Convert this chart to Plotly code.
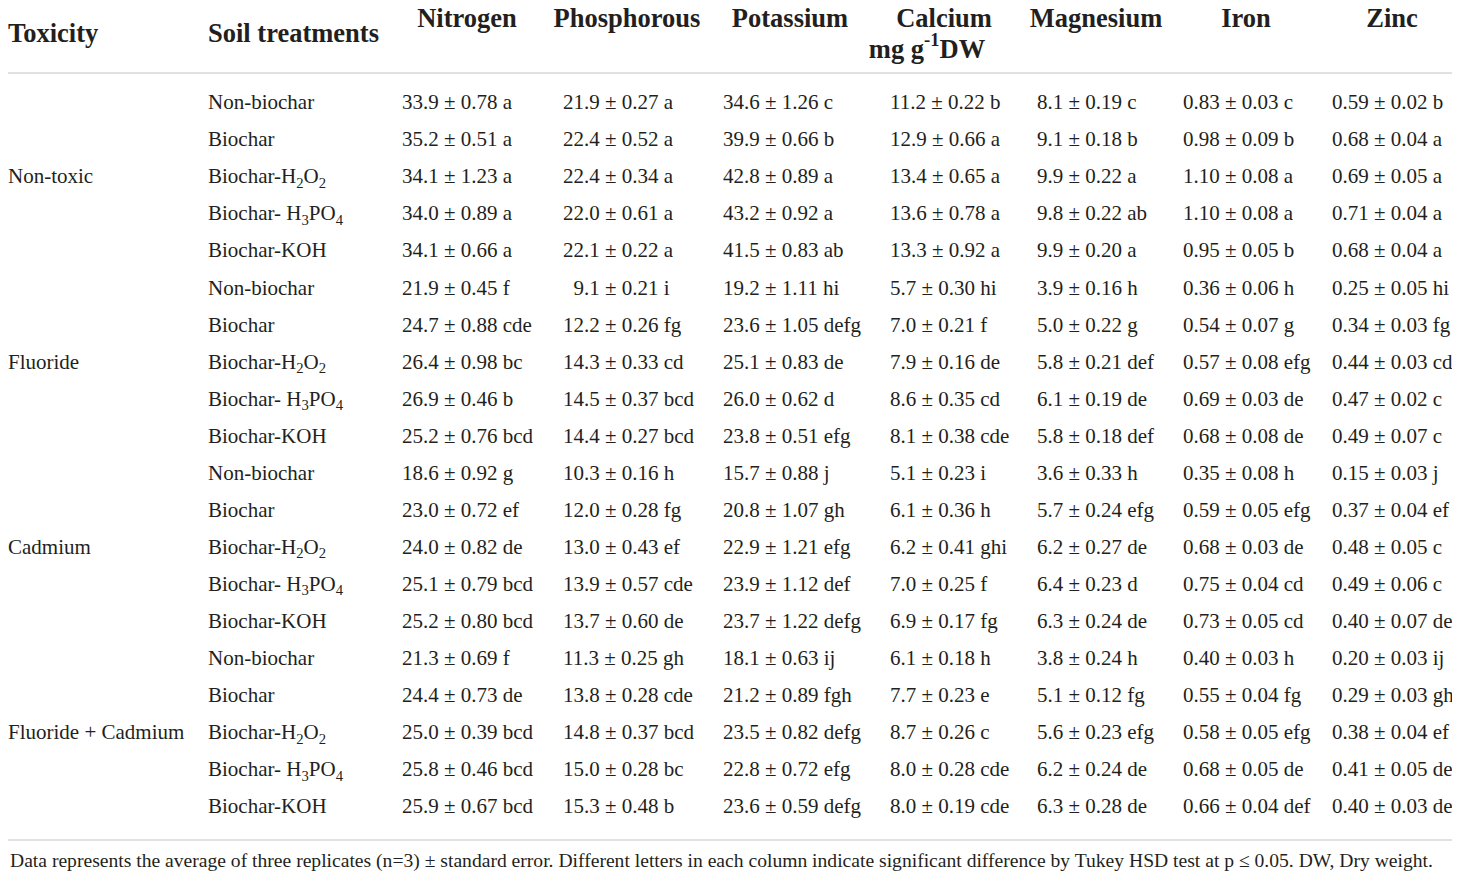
import plotly.graph_objects as go

# table content
toxicity = ["Non-toxic", "Fluoride", "Cadmium", "Fluoride + Cadmium"]
treatments = ["Non-biochar", "Biochar", "Biochar-H<sub>2</sub>O<sub>2</sub>",
              "Biochar- H<sub>3</sub>PO<sub>4</sub>", "Biochar-KOH"]

columns = ["Nitrogen", "Phosphorous", "Potassium", "Calcium", "Magnesium", "Iron", "Zinc"]
unit_label = "mg g<sup>-1</sup>DW"

nitrogen = ["33.9 ± 0.78 a", "35.2 ± 0.51 a", "34.1 ± 1.23 a", "34.0 ± 0.89 a", "34.1 ± 0.66 a",
            "21.9 ± 0.45 f", "24.7 ± 0.88 cde", "26.4 ± 0.98 bc", "26.9 ± 0.46 b", "25.2 ± 0.76 bcd",
            "18.6 ± 0.92 g", "23.0 ± 0.72 ef", "24.0 ± 0.82 de", "25.1 ± 0.79 bcd", "25.2 ± 0.80 bcd",
            "21.3 ± 0.69 f", "24.4 ± 0.73 de", "25.0 ± 0.39 bcd", "25.8 ± 0.46 bcd", "25.9 ± 0.67 bcd"]
phosphorous = ["21.9 ± 0.27 a", "22.4 ± 0.52 a", "22.4 ± 0.34 a", "22.0 ± 0.61 a", "22.1 ± 0.22 a",
               "\u20079.1 ± 0.21 i", "12.2 ± 0.26 fg", "14.3 ± 0.33 cd", "14.5 ± 0.37 bcd", "14.4 ± 0.27 bcd",
               "10.3 ± 0.16 h", "12.0 ± 0.28 fg", "13.0 ± 0.43 ef", "13.9 ± 0.57 cde", "13.7 ± 0.60 de",
               "11.3 ± 0.25 gh", "13.8 ± 0.28 cde", "14.8 ± 0.37 bcd", "15.0 ± 0.28 bc", "15.3 ± 0.48 b"]
potassium = ["34.6 ± 1.26 c", "39.9 ± 0.66 b", "42.8 ± 0.89 a", "43.2 ± 0.92 a", "41.5 ± 0.83 ab",
             "19.2 ± 1.11 hi", "23.6 ± 1.05 defg", "25.1 ± 0.83 de", "26.0 ± 0.62 d", "23.8 ± 0.51 efg",
             "15.7 ± 0.88 j", "20.8 ± 1.07 gh", "22.9 ± 1.21 efg", "23.9 ± 1.12 def", "23.7 ± 1.22 defg",
             "18.1 ± 0.63 ij", "21.2 ± 0.89 fgh", "23.5 ± 0.82 defg", "22.8 ± 0.72 efg", "23.6 ± 0.59 defg"]
calcium = ["11.2 ± 0.22 b", "12.9 ± 0.66 a", "13.4 ± 0.65 a", "13.6 ± 0.78 a", "13.3 ± 0.92 a",
           "5.7 ± 0.30 hi", "7.0 ± 0.21 f", "7.9 ± 0.16 de", "8.6 ± 0.35 cd", "8.1 ± 0.38 cde",
           "5.1 ± 0.23 i", "6.1 ± 0.36 h", "6.2 ± 0.41 ghi", "7.0 ± 0.25 f", "6.9 ± 0.17 fg",
           "6.1 ± 0.18 h", "7.7 ± 0.23 e", "8.7 ± 0.26 c", "8.0 ± 0.28 cde", "8.0 ± 0.19 cde"]
magnesium = ["8.1 ± 0.19 c", "9.1 ± 0.18 b", "9.9 ± 0.22 a", "9.8 ± 0.22 ab", "9.9 ± 0.20 a",
             "3.9 ± 0.16 h", "5.0 ± 0.22 g", "5.8 ± 0.21 def", "6.1 ± 0.19 de", "5.8 ± 0.18 def",
             "3.6 ± 0.33 h", "5.7 ± 0.24 efg", "6.2 ± 0.27 de", "6.4 ± 0.23 d", "6.3 ± 0.24 de",
             "3.8 ± 0.24 h", "5.1 ± 0.12 fg", "5.6 ± 0.23 efg", "6.2 ± 0.24 de", "6.3 ± 0.28 de"]
iron = ["0.83 ± 0.03 c", "0.98 ± 0.09 b", "1.10 ± 0.08 a", "1.10 ± 0.08 a", "0.95 ± 0.05 b",
        "0.36 ± 0.06 h", "0.54 ± 0.07 g", "0.57 ± 0.08 efg", "0.69 ± 0.03 de", "0.68 ± 0.08 de",
        "0.35 ± 0.08 h", "0.59 ± 0.05 efg", "0.68 ± 0.03 de", "0.75 ± 0.04 cd", "0.73 ± 0.05 cd",
        "0.40 ± 0.03 h", "0.55 ± 0.04 fg", "0.58 ± 0.05 efg", "0.68 ± 0.05 de", "0.66 ± 0.04 def"]
zinc = ["0.59 ± 0.02 b", "0.68 ± 0.04 a", "0.69 ± 0.05 a", "0.71 ± 0.04 a", "0.68 ± 0.04 a",
        "0.25 ± 0.05 hi", "0.34 ± 0.03 fg", "0.44 ± 0.03 cd", "0.47 ± 0.02 c", "0.49 ± 0.07 c",
        "0.15 ± 0.03 j", "0.37 ± 0.04 ef", "0.48 ± 0.05 c", "0.49 ± 0.06 c", "0.40 ± 0.07 de",
        "0.20 ± 0.03 ij", "0.29 ± 0.03 gh", "0.38 ± 0.04 ef", "0.41 ± 0.05 de", "0.40 ± 0.03 de"]

footnote = ("Data represents the average of three replicates (n=3) ± standard error. Different letters in each "
            "column indicate significant difference by Tukey HSD test at p ≤ 0.05. DW, Dry weight.")

#%%
# page body has an 8px margin, so the axes are set up in window pixels
W, H = 1460, 881
PAD = 8
FONT = "Liberation Serif"
INK = "#231f20"

col_x = [402, 563, 723, 890, 1037, 1183, 1332]        # left edge of each value column
head_x = [467, 627, 790, 944, 1096, 1246, 1392]       # header centres
row_y0, row_dy = 104, 37.05

values = [nitrogen, phosphorous, potassium, calcium, magnesium, iron, zinc]
n_rows = len(nitrogen)
row_y = [row_y0 + i * row_dy for i in range(n_rows)]

fig = go.Figure()

# body cells
xs, ys, ts = [], [], []
for i in range(n_rows):
    xs.append(208)
    ys.append(row_y[i])
    ts.append(treatments[i % len(treatments)])
    for c, col in enumerate(values):
        xs.append(col_x[c])
        ys.append(row_y[i])
        ts.append(col[i])
for g, name in enumerate(toxicity):
    xs.append(8)
    ys.append(row_y[g * 5 + 2])
    ts.append(name)

fig.add_trace(go.Scatter(x=xs, y=ys, text=ts, mode="text", textposition="middle right",
                         textfont=dict(family=FONT, size=21, color=INK), hoverinfo="skip",
                         cliponaxis=False, showlegend=False))

# header
fig.add_trace(go.Scatter(x=head_x, y=[20] * len(columns), text=["<b>%s</b>" % c for c in columns],
                         mode="text", textposition="middle center",
                         textfont=dict(family=FONT, size=26.5, color=INK), hoverinfo="skip",
                         cliponaxis=False, showlegend=False))
fig.add_trace(go.Scatter(x=[8, 208, 927], y=[35, 35, 51],
                         text=["<b>Toxicity</b>", "<b>Soil treatments</b>", "<b>%s</b>" % unit_label],
                         mode="text", textposition=["middle right", "middle right", "middle center"],
                         textfont=dict(family=FONT, size=26.5, color=INK), hoverinfo="skip",
                         cliponaxis=False, showlegend=False))

# rules
for yy in [73, 840]:
    fig.add_shape(type="line", x0=8, x1=1452, y0=yy, y1=yy, line=dict(color="#c4c4c4", width=1.2))

fig.add_annotation(x=8, y=861, text=footnote, showarrow=False, xanchor="left", yanchor="middle",
                   font=dict(family=FONT, size=19.6, color=INK))

fig.update_xaxes(range=[PAD, W], visible=False, fixedrange=True)
fig.update_yaxes(range=[H, PAD], visible=False, fixedrange=True)
fig.update_layout(width=W - PAD, height=H - PAD, margin=dict(l=0, r=0, t=0, b=0),
                  paper_bgcolor="white", plot_bgcolor="white")

fig.write_html("out.html")
